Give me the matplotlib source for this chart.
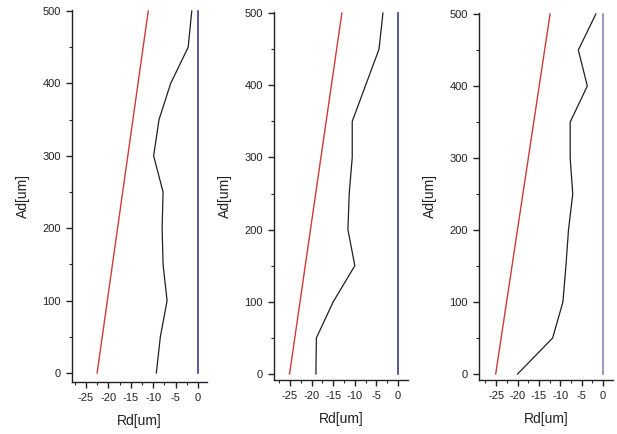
import matplotlib
matplotlib.use("Agg")
import matplotlib.pyplot as plt
from matplotlib.ticker import MultipleLocator

plt.rcParams['font.family'] = ['Liberation Sans', 'DejaVu Sans']
plt.rcParams['axes.unicode_minus'] = False

depth = [0, 50, 100, 150, 200, 250, 300, 350, 400, 450, 500]

red_x = [[-22.5, -11.1], [-25.1, -13.0], [-25.1, -12.4]]
red_y = [0, 500]

black_x = [
    [-9.3, -8.4, -6.9, -7.8, -8.0, -7.8, -9.9, -8.7, -6.1, -2.2, -1.4],
    [-19.0, -18.9, -15.0, -10.0, -11.6, -11.3, -10.6, -10.6, -7.5, -4.4, -3.5],
    [-20.0, -11.8, -9.4, -8.7, -8.1, -7.1, -7.7, -7.7, -3.7, -5.8, -1.7],
]

blue_x = [0, 0]
blue_y = [0, 500]

xticks = [-25, -20, -15, -10, -5, 0]
yticks = [0, 100, 200, 300, 400, 500]

W, H = 617, 434
fig = plt.figure(figsize=(W / 100, H / 100), dpi=100)

# (left, right, top, bottom) in pixels, xlim, ylim
layouts = [
    ((72, 207, 10, 382), (-28.1, 2.0), (-12.4, 501.4)),
    ((274, 408, 12, 380), (-28.7, 2.3), (-8.3, 501.4)),
    ((479, 613, 13, 380), (-29.0, 2.3), (-8.3, 501.4)),
]
blue_cols = ['#3c3c90', '#3c3c90', '#8484b4']

for i, ((l, r, t, b), xl, yl) in enumerate(layouts):
    ax = fig.add_axes([l / W, (H - b) / H, (r - l) / W, (b - t) / H])
    ax.plot(red_x[i], red_y, color='#d03a3a', lw=1.0)
    ax.plot(black_x[i], depth, color='#202020', lw=0.9)
    ax.plot(blue_x, blue_y, color=blue_cols[i], lw=1.2)
    ax.set_xlim(*xl)
    ax.set_ylim(*yl)
    ax.spines['top'].set_visible(False)
    ax.spines['right'].set_visible(False)
    for s in ('left', 'bottom'):
        ax.spines[s].set_linewidth(1.0)
        ax.spines[s].set_color('#222222')
    ax.set_xticks(xticks)
    ax.set_yticks(yticks)
    ax.xaxis.set_minor_locator(MultipleLocator(2.5))
    ax.yaxis.set_minor_locator(MultipleLocator(50))
    ax.tick_params(axis='both', which='major', direction='out', length=4,
                   width=1.0, labelsize=8, pad=4, colors='#222222')
    ax.tick_params(axis='both', which='minor', direction='out', length=2.5,
                   width=0.8, colors='#222222')
    ax.set_xlabel('Rd[um]', fontsize=10, labelpad=8, color='#222222')
    ax.set_ylabel('Ad[um]', fontsize=10, labelpad=9, color='#222222')

fig.savefig('out.png', dpi=100)
